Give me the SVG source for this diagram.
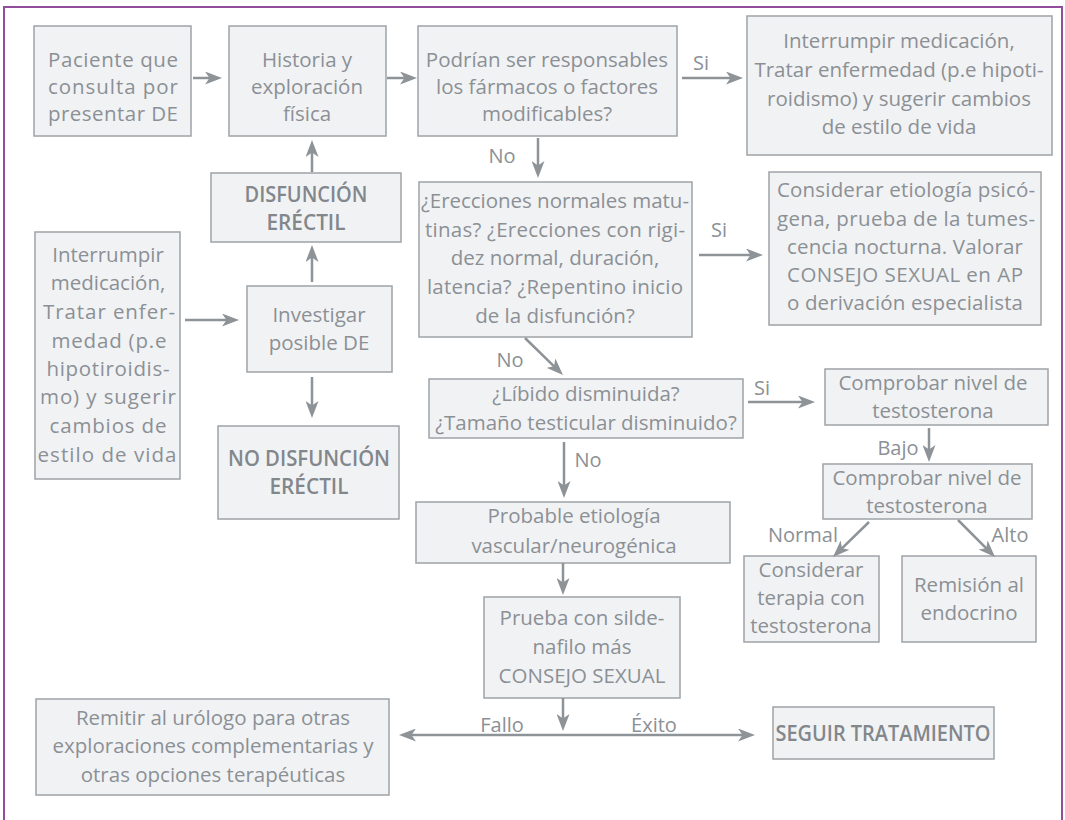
<svg xmlns="http://www.w3.org/2000/svg" width="1065" height="820" viewBox="0 0 1065 820">
<style>
.box{fill:#f1f2f4;stroke:#9fa3a7;stroke-width:1.5}
.t{font-family:"Open Sans","Liberation Sans",sans-serif;font-size:20.5px;fill:#8b9095;text-anchor:middle}
.b{font-weight:600;font-size:22px;fill:#82878c}
.c{stroke:#8e9398;stroke-width:2.5;fill:none}
.l{font-family:"Open Sans","Liberation Sans",sans-serif;font-size:20px;fill:#8b9095;text-anchor:middle}
</style>
<defs>
<marker id="ah" markerWidth="17" markerHeight="13" refX="11" refY="6.5" orient="auto-start-reverse" markerUnits="userSpaceOnUse">
<path d="M0,0 L17,6.5 L0,13 L4.5,6.5 z" fill="#8e9398"/>
</marker>
</defs>
<rect x="4" y="7" width="1058" height="830" fill="#ffffff" stroke="#944c9c" stroke-width="2"/>

<g id="n1"><rect class="box" x="34" y="26" width="157" height="110"/>
<text class="t"><tspan x="113" y="67" textLength="130" lengthAdjust="spacing">Paciente que</tspan><tspan x="113" y="94" textLength="130" lengthAdjust="spacing">consulta por</tspan><tspan x="113" y="121" textLength="130" lengthAdjust="spacing">presentar DE</tspan></text></g>

<g id="n2"><rect class="box" x="229" y="26" width="157" height="110"/>
<text class="t"><tspan x="307" y="67">Historia y</tspan><tspan x="307" y="94">exploración</tspan><tspan x="307" y="121">física</tspan></text></g>

<g id="n3"><rect class="box" x="418" y="26" width="259" height="110"/>
<text class="t"><tspan x="547" y="67">Podrían ser responsables</tspan><tspan x="547" y="94">los fármacos o factores</tspan><tspan x="547" y="121">modificables?</tspan></text></g>

<g id="n4"><rect class="box" x="747" y="16" width="305" height="139"/>
<text class="t"><tspan x="899" y="48">Interrumpir medicación,</tspan><tspan x="899" y="77">Tratar enfermedad (p.e hipoti-</tspan><tspan x="899" y="106">roidismo) y sugerir cambios</tspan><tspan x="899" y="134">de estilo de vida</tspan></text></g>

<g id="n5"><rect class="box" x="211" y="173" width="190" height="69"/>
<text class="t b"><tspan x="306" y="202" textLength="123" lengthAdjust="spacingAndGlyphs">DISFUNCIÓN</tspan><tspan x="306" y="230" textLength="79" lengthAdjust="spacingAndGlyphs">ERÉCTIL</tspan></text></g>

<g id="n6"><rect class="box" x="419" y="182" width="273" height="155"/>
<text class="t"><tspan x="555" y="208" textLength="268" lengthAdjust="spacing">¿Erecciones normales matu-</tspan><tspan x="555" y="237" textLength="260" lengthAdjust="spacing">tinas? ¿Erecciones con rigi-</tspan><tspan x="555" y="265">dez normal, duración,</tspan><tspan x="555" y="294" textLength="256" lengthAdjust="spacing">latencia? ¿Repentino inicio</tspan><tspan x="555" y="323">de la disfunción?</tspan></text></g>

<g id="n7"><rect class="box" x="769" y="172" width="272" height="153"/>
<text class="t"><tspan x="906" y="197" textLength="258" lengthAdjust="spacing">Considerar etiología psicó-</tspan><tspan x="906" y="226" textLength="258" lengthAdjust="spacing">gena, prueba de la tumes-</tspan><tspan x="905" y="254" textLength="236" lengthAdjust="spacing">cencia nocturna. Valorar</tspan><tspan x="905" y="282" textLength="236" lengthAdjust="spacing">CONSEJO SEXUAL en  AP</tspan><tspan x="905" y="310" textLength="236" lengthAdjust="spacing">o derivación especialista</tspan></text></g>

<g id="n8"><rect class="box" x="35" y="232" width="145" height="247"/>
<text class="t"><tspan x="108" y="262">Interrumpir</tspan><tspan x="108" y="290">medicación,</tspan><tspan x="109" y="319" textLength="132" lengthAdjust="spacing">Tratar  enfer-</tspan><tspan x="109" y="348" textLength="115" lengthAdjust="spacing">medad (p.e</tspan><tspan x="108" y="376" textLength="123" lengthAdjust="spacing">hipotiroidis-</tspan><tspan x="108" y="404" textLength="136" lengthAdjust="spacing">mo) y sugerir</tspan><tspan x="108" y="433" textLength="117" lengthAdjust="spacing">cambios de</tspan><tspan x="107" y="462" textLength="139" lengthAdjust="spacing">estilo de vida</tspan></text></g>

<g id="n9"><rect class="box" x="247" y="286" width="145" height="86"/>
<text class="t"><tspan x="319" y="322">Investigar</tspan><tspan x="319" y="350">posible DE</tspan></text></g>

<g id="n10"><rect class="box" x="218" y="426" width="181" height="93"/>
<text class="t b"><tspan x="309" y="466" textLength="162" lengthAdjust="spacingAndGlyphs">NO DISFUNCIÓN</tspan><tspan x="309" y="494" textLength="79" lengthAdjust="spacingAndGlyphs">ERÉCTIL</tspan></text></g>

<g id="n11"><rect class="box" x="429" y="379" width="314" height="59"/>
<text class="t"><tspan x="586" y="401">¿Líbido disminuida?</tspan><tspan x="586" y="430">¿Tamaño testicular disminuido?</tspan></text></g>

<g id="n12"><rect class="box" x="825" y="369" width="223" height="56"/>
<text class="t"><tspan x="933" y="390">Comprobar nivel de</tspan><tspan x="933" y="418">testosterona</tspan></text></g>

<g id="n13"><rect class="box" x="823" y="464" width="209" height="55"/>
<text class="t"><tspan x="927" y="485">Comprobar nivel de</tspan><tspan x="927" y="513">testosterona</tspan></text></g>

<g id="n14"><rect class="box" x="744" y="556" width="135" height="86"/>
<text class="t"><tspan x="811" y="577">Considerar</tspan><tspan x="811" y="605">terapia con</tspan><tspan x="811" y="633">testosterona</tspan></text></g>

<g id="n15"><rect class="box" x="902" y="556" width="134" height="86"/>
<text class="t"><tspan x="969" y="592">Remisión al</tspan><tspan x="969" y="620">endocrino</tspan></text></g>

<g id="n16"><rect class="box" x="416" y="502" width="314" height="61"/>
<text class="t"><tspan x="574" y="523">Probable etiología</tspan><tspan x="574" y="553">vascular/neurogénica</tspan></text></g>

<g id="n17"><rect class="box" x="484" y="597" width="196" height="101"/>
<text class="t"><tspan x="582" y="625">Prueba con silde-</tspan><tspan x="582" y="654">nafilo más</tspan><tspan x="582" y="683">CONSEJO SEXUAL</tspan></text></g>

<g id="n18"><rect class="box" x="36" y="699" width="353" height="96"/>
<text class="t"><tspan x="213" y="725">Remitir al urólogo para otras</tspan><tspan x="213" y="753">exploraciones complementarias y</tspan><tspan x="213" y="782">otras opciones terapéuticas</tspan></text></g>

<g id="n19"><rect class="box" x="773" y="707" width="221" height="52"/>
<text class="t b"><tspan x="883" y="741" textLength="215" lengthAdjust="spacingAndGlyphs">SEGUIR TRATAMIENTO</tspan></text></g>

<g id="connectors">
<line class="c" x1="193" y1="78" x2="216" y2="78" marker-end="url(#ah)"/>
<line class="c" x1="387" y1="78" x2="411" y2="78" marker-end="url(#ah)"/>
<line class="c" x1="682" y1="78" x2="737" y2="78" marker-end="url(#ah)"/>
<line class="c" x1="538" y1="138" x2="538" y2="172" marker-end="url(#ah)"/>
<line class="c" x1="699" y1="255" x2="757" y2="255" marker-end="url(#ah)"/>
<line class="c" x1="525" y1="338" x2="558.7" y2="370.8" marker-end="url(#ah)"/>
<line class="c" x1="748" y1="402" x2="809" y2="402" marker-end="url(#ah)"/>
<line class="c" x1="929" y1="428" x2="929" y2="456" marker-end="url(#ah)"/>
<line class="c" x1="869" y1="522" x2="837.3" y2="552.8" marker-end="url(#ah)"/>
<line class="c" x1="958" y1="520" x2="990.8" y2="552.8" marker-end="url(#ah)"/>
<line class="c" x1="564" y1="442" x2="564" y2="492" marker-end="url(#ah)"/>
<line class="c" x1="563" y1="563" x2="563" y2="589" marker-end="url(#ah)"/>
<line class="c" x1="563" y1="698" x2="563" y2="725" marker-end="url(#ah)"/>
<line class="c" x1="405" y1="735" x2="749" y2="735" marker-start="url(#ah)" marker-end="url(#ah)"/>
<line class="c" x1="312" y1="282" x2="312" y2="251" marker-end="url(#ah)"/>
<line class="c" x1="312" y1="172" x2="312" y2="146" marker-end="url(#ah)"/>
<line class="c" x1="312" y1="377" x2="312" y2="412" marker-end="url(#ah)"/>
<line class="c" x1="185" y1="320" x2="233" y2="320" marker-end="url(#ah)"/>
<text class="l" x="701" y="70">Si</text>
<text class="l" x="502" y="163">No</text>
<text class="l" x="719" y="237">Si</text>
<text class="l" x="510" y="367">No</text>
<text class="l" x="762" y="395">Si</text>
<text class="l" x="898" y="455">Bajo</text>
<text class="l" x="588" y="467">No</text>
<text class="l" x="803" y="542">Normal</text>
<text class="l" x="1010" y="542">Alto</text>
<text class="l" x="502" y="732">Fallo</text>
<text class="l" x="654" y="732">Éxito</text>
</g>
</svg>
